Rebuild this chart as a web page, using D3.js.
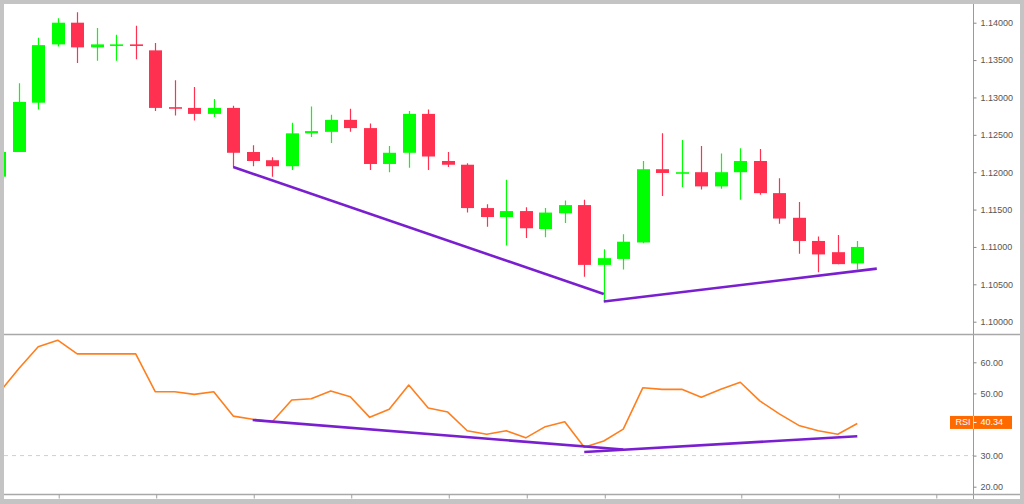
<!DOCTYPE html>
<html><head><meta charset="utf-8">
<script src="https://cdnjs.cloudflare.com/ajax/libs/d3/7.8.5/d3.min.js"></script>
<style>html,body{margin:0;padding:0;background:#c4c4c4;}svg{display:block;}</style>
</head><body>
<svg id="chart" width="1024" height="504"></svg>
<script>
// candle index -1 .. 43
const idx = d3.range(-1, 44);
const opens  = [1.1194,1.1227,1.1293,1.1371,1.1400,1.1367,1.13695,1.1371,1.1363,1.1287,1.1286,1.1278,1.1286,1.1227,1.1216,1.1208,1.1252,1.1254,1.1270,1.1259,1.1211,1.1226,1.1278,1.1215,1.1210,1.1152,1.1140,1.1148,1.1124,1.1145,1.1156,1.1076,1.1084,1.1106,1.1204,1.1199,1.1200,1.1181,1.1200,1.1215,1.1172,1.1139,1.1108,1.1093,1.1078];
const highs  = [1.1227,1.1319,1.1380,1.1406,1.1414,1.1393,1.1384,1.1396,1.1373,1.1323,1.1314,1.1298,1.1289,1.1236,1.1220,1.1266,1.1288,1.1277,1.1285,1.1265,1.1235,1.1282,1.1284,1.1227,1.1212,1.1157,1.1190,1.1153,1.1152,1.1162,1.1163,1.1097,1.1117,1.1215,1.1252,1.1243,1.1235,1.1225,1.1232,1.1231,1.1192,1.1160,1.1114,1.1116,1.1108];
const lows   = [1.1194,1.1227,1.1284,1.1368,1.1346,1.1349,1.1349,1.1351,1.1282,1.1276,1.1269,1.1274,1.1207,1.1208,1.1194,1.1203,1.1247,1.1239,1.1254,1.1203,1.1200,1.1206,1.1203,1.1207,1.1146,1.1127,1.1102,1.1112,1.1113,1.1132,1.1060,1.1027,1.1070,1.1105,1.1168,1.1180,1.1177,1.1178,1.1163,1.1170,1.1131,1.1091,1.1066,1.1077,1.1070];
const closes = [1.1227,1.1294,1.1370,1.1400,1.1367,1.1371,1.1371,1.1369,1.1286,1.1285,1.1278,1.1286,1.1226,1.1215,1.1208,1.1252,1.1255,1.1270,1.1259,1.1211,1.1226,1.1278,1.1221,1.1210,1.1152,1.1140,1.1148,1.1125,1.1146,1.1156,1.1076,1.1085,1.1107,1.1204,1.1199,1.1200,1.1181,1.1200,1.1215,1.1172,1.1138,1.1108,1.1090,1.1077,1.1100];
const rsi = [50.3,57.9,65.0,67.1,62.7,62.7,62.7,62.7,50.55,50.55,49.7,50.55,42.7,41.7,40.9,47.9,48.3,50.8,48.9,42.3,44.9,52.7,45.3,44.0,38.0,36.85,38.0,35.7,39.3,40.9,32.7,34.7,38.5,51.8,51.3,51.3,48.8,51.3,53.6,47.6,43.4,39.7,38.0,36.85,40.34];
const priceTicks = [1.10,1.105,1.11,1.115,1.12,1.125,1.13,1.135,1.14];
const rsiTicks = [20,30,50,60];
const timeTicks = [2,7,12,17,22,26,30,37,42,47];
const priceTrend = [[{i:11,v:1.1207},{i:30,v:1.1037}],[{i:30,v:1.1027},{i:44,v:1.1071}]];
const rsiTrend = [[{i:12,v:41.45},{i:31,v:31.96}],[{i:29,v:31.16},{i:43,v:36.2}]];
const rsiLast = 40.34;

const svg = d3.select('#chart');
const L = 4, R = 1020, T = 4, B = 499, AX = 973.5, DIV = 334.5, BOT = 494.5;
const x = d3.scaleLinear().domain([0,43]).range([18.7,857.3]);
const yP = d3.scaleLinear().domain([1.10,1.14]).range([321.7,22.7]);
const yR = d3.scaleLinear().domain([20,60]).range([486.7,362.3]);
const up = '#00ff00', dn = '#ff3050', purple = '#7a1fd0', orange = '#ff7f1e';

svg.append('rect').attr('x',L).attr('y',T).attr('width',R-L).attr('height',B-T).attr('fill','#fff');
const defs = svg.append('defs');
defs.append('clipPath').attr('id','cp').append('rect').attr('x',L).attr('y',T).attr('width',AX-L).attr('height',DIV-T-1);
defs.append('clipPath').attr('id','cr').append('rect').attr('x',L).attr('y',DIV+1).attr('width',AX-L).attr('height',BOT-DIV-1.5);

// price panel
const gp = svg.append('g').attr('clip-path','url(#cp)');
const data = idx.map((k,j)=>({k,o:opens[j],h:highs[j],l:lows[j],c:closes[j]}));
const cg = gp.selectAll('g.c').data(data).join('g');
cg.append('line').attr('x1',d=>Math.round(x(d.k))+0.5).attr('x2',d=>Math.round(x(d.k))+0.5)
  .attr('y1',d=>yP(d.h)).attr('y2',d=>yP(d.l)).attr('stroke',d=>d.c>=d.o?up:dn).attr('stroke-width',1.2);
cg.append('rect').attr('x',d=>Math.round(x(d.k))+0.5-6.5).attr('width',13)
  .attr('y',d=>yP(Math.max(d.o,d.c))).attr('height',d=>Math.max(1.6,Math.abs(yP(d.o)-yP(d.c))))
  .attr('fill',d=>d.c>=d.o?up:dn);
const ln = d3.line().x(d=>x(d.i)).y(d=>yP(d.v));
priceTrend.forEach(t=>gp.append('path').attr('d',ln(t)).attr('fill','none').attr('stroke',purple).attr('stroke-width',2.6));

// rsi panel
const gr = svg.append('g').attr('clip-path','url(#cr)');
gr.append('line').attr('x1',L).attr('x2',AX).attr('y1',yR(30)).attr('y2',yR(30))
  .attr('stroke','#cfcfcf').attr('stroke-dasharray','4,4').attr('stroke-width',1);
const lr = d3.line().x((d,j)=>x(idx[j])).y(d=>yR(d));
gr.append('path').attr('d',lr(rsi)).attr('fill','none').attr('stroke',orange).attr('stroke-width',1.6).attr('stroke-linejoin','round');
const lt = d3.line().x(d=>x(d.i)).y(d=>yR(d.v));
rsiTrend.forEach(t=>gr.append('path').attr('d',lt(t)).attr('fill','none').attr('stroke',purple).attr('stroke-width',2.6));

// frame lines
svg.append('line').attr('x1',AX).attr('x2',AX).attr('y1',T).attr('y2',B).attr('stroke','#9a9a9a').attr('stroke-width',1);
svg.append('line').attr('x1',L).attr('x2',R).attr('y1',DIV).attr('y2',DIV).attr('stroke','#a8a8a8').attr('stroke-width',1.5);
svg.append('line').attr('x1',L).attr('x2',R).attr('y1',BOT).attr('y2',BOT).attr('stroke','#a8a8a8').attr('stroke-width',1.5);

// axes
const font = '"Liberation Sans", Arial, sans-serif';
const ap = svg.append('g').attr('transform',`translate(${AX},0)`)
  .call(d3.axisRight(yP).tickValues(priceTicks).tickFormat(d3.format('.5f')).tickSize(3).tickPadding(4));
const ar = svg.append('g').attr('transform',`translate(${AX},0)`)
  .call(d3.axisRight(yR).tickValues(rsiTicks).tickFormat(d3.format('.2f')).tickSize(3).tickPadding(4));
[ap,ar].forEach(a=>{
  a.select('.domain').remove();
  a.selectAll('line').attr('stroke','#888');
  a.selectAll('text').attr('fill','#555').attr('font-family',font).attr('font-size',9);
});
const at = svg.append('g').attr('transform',`translate(0,${BOT})`)
  .call(d3.axisBottom(x).tickValues(timeTicks).tickFormat('').tickSize(4));
at.select('.domain').remove();
at.selectAll('line').attr('stroke','#a0a0a0').attr('transform','translate(1,0)');

// RSI label
const ly = yR(rsiLast) - 1;
const lab = svg.append('g');
lab.append('rect').attr('x',950).attr('y',ly-6.5).attr('width',62).attr('height',13).attr('fill','#ff6a00');
lab.append('line').attr('x1',AX).attr('x2',AX).attr('y1',ly-6.5).attr('y2',ly+6.5).attr('stroke','#d0d0d0').attr('stroke-width',1);
lab.append('line').attr('x1',AX).attr('x2',AX+3).attr('y1',ly).attr('y2',ly).attr('stroke','#fff');
lab.append('text').attr('x',963).attr('y',ly).attr('dy','0.33em').attr('text-anchor','middle')
  .attr('fill','#fff').attr('font-family',font).attr('font-size',9).text('RSI');
lab.append('text').attr('x',AX+7).attr('y',ly).attr('dy','0.33em')
  .attr('fill','#fff').attr('font-family',font).attr('font-size',9).text(d3.format('.2f')(rsiLast));
</script>
</body></html>
